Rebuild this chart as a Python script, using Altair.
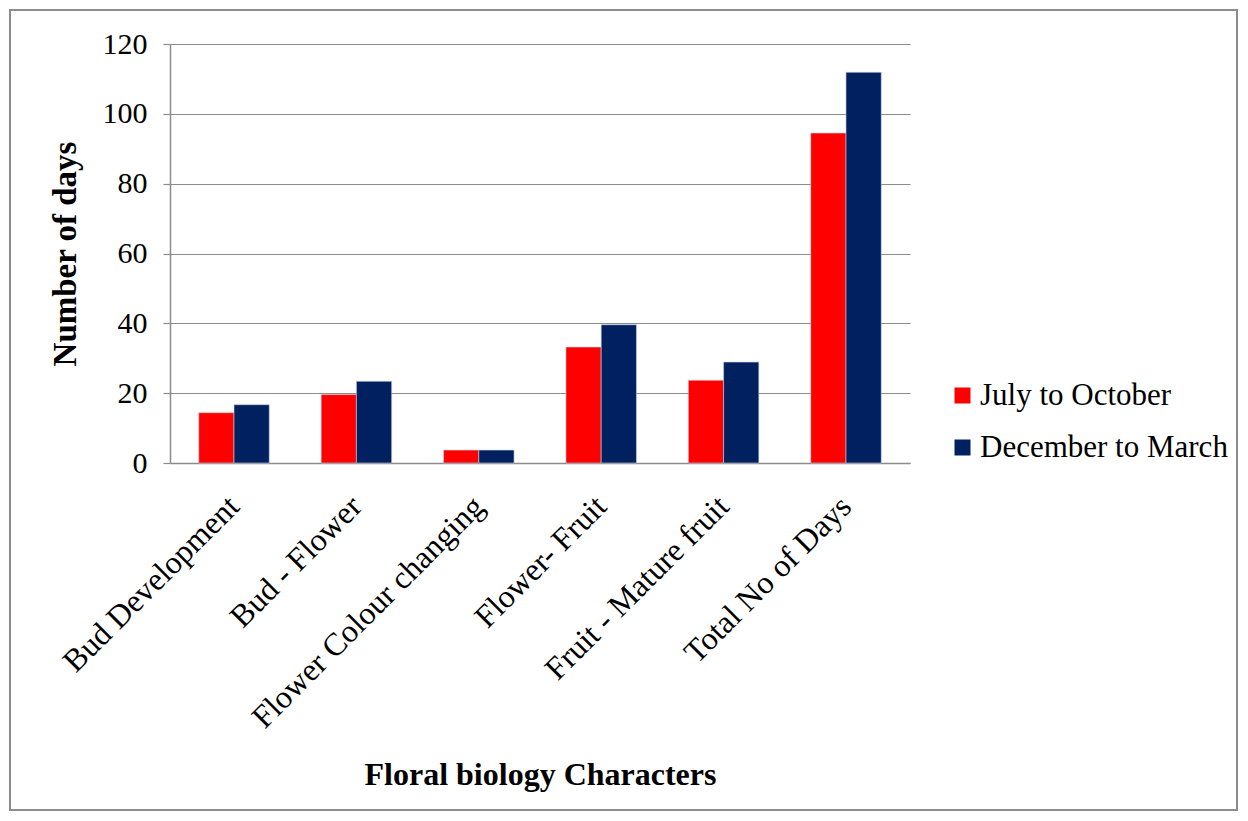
import altair as alt
import pandas as pd

categories = ["Bud Development", "Bud - Flower", "Flower Colour changing",
              "Flower- Fruit", "Fruit - Mature fruit", "Total No of Days"]
series = ["July to October", "December to March"]
july_oct = [14.4, 19.6, 3.7, 33.2, 23.7, 94.5]
dec_mar = [16.7, 23.4, 3.7, 39.6, 28.9, 111.9]
colors = ["#FF0000", "#002060"]
y_ticks = [0, 20, 40, 60, 80, 100, 120]

rows = []
for i, c in enumerate(categories):
    rows.append({"cat": c, "series": series[0], "val": july_oct[i]})
    rows.append({"cat": c, "series": series[1], "val": dec_mar[i]})
df = pd.DataFrame(rows)

FONT = "Liberation Serif"
GRAY = "#8c8c8c"

bars = alt.Chart(df).mark_bar(stroke="#c8d0e0", strokeWidth=0.6).encode(
    x=alt.X("cat:N", sort=categories,
            scale=alt.Scale(paddingInner=0.424, paddingOuter=0.235),
            axis=alt.Axis(title="Floral biology Characters", labelAngle=-45,
                          labelAlign="right", labelBaseline="middle",
                          labelPadding=38, ticks=False, domain=True,
                          domainColor=GRAY, domainWidth=1.5,
                          labelFont=FONT, labelFontSize=32, labelColor="black",
                          titleFont=FONT, titleFontSize=32, titleFontWeight="bold",
                          titleColor="black", titlePadding=96, labelLimit=600)),
    xOffset=alt.XOffset("series:N", sort=series),
    y=alt.Y("val:Q", scale=alt.Scale(domain=[0, 120], nice=False),
            axis=alt.Axis(title="Number of days", values=y_ticks, grid=True,
                          gridColor=GRAY, gridWidth=1.2, domainColor=GRAY,
                          domainWidth=1.5, tickColor=GRAY, tickSize=7,
                          tickWidth=1.2, labelPadding=16,
                          labelFont=FONT, labelFontSize=30, labelColor="black",
                          titleFont=FONT, titleFontSize=33, titleFontWeight="bold",
                          titleColor="black", titlePadding=20)),
    color=alt.Color("series:N", sort=series,
                    scale=alt.Scale(domain=series, range=colors),
                    legend=alt.Legend(title=None, orient="none", legendX=777,
                                      legendY=336, symbolType="square",
                                      symbolSize=256, symbolStrokeWidth=0,
                                      labelFont=FONT, labelFontSize=31,
                                      labelColor="black", labelOffset=2,
                                      labelLimit=600,
                                      rowPadding=20, padding=0)),
)

border = alt.Chart(pd.DataFrame({"a": [0]})).mark_rect(
    fill=None, stroke=GRAY, strokeWidth=2
).encode(
    x=alt.value(-160), x2=alt.value(1067),
    y=alt.value(-34), y2=alt.value(766),
)

chart = alt.layer(border, bars).properties(
    width=740, height=419,
    autosize=alt.AutoSizeParams(type="none"),
    padding={"left": 162, "top": 36, "right": 330, "bottom": 349},
).configure_view(stroke=None)

chart.save("out.html", embed_options={"renderer": "svg", "actions": False})
